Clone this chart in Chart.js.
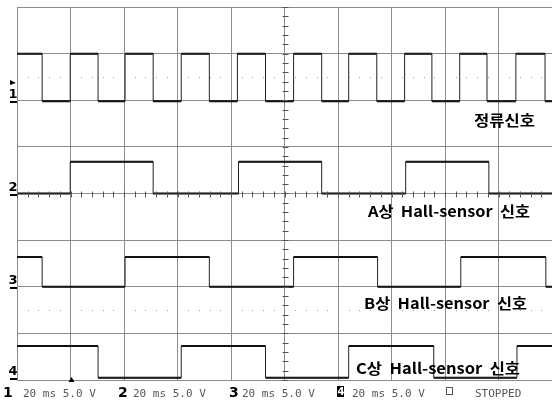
<!DOCTYPE html>
<html>
<head>
<meta charset="utf-8">
<script src="https://cdn.jsdelivr.net/npm/chart.js@4"></script>
<style>
    html, body { margin: 0; padding: 0; background: #fff; }
    #wrap { width: 552px; height: 401px; }
</style>
</head>
<body>
<div id="wrap"><canvas id="scope"></canvas></div>
<script>
// Horizontal: 10 div x 20 ms, vertical: 8 div (values in divisions)
const timeMax = 200;
const timeStep = 20;
const divMax = 8;

// Edge times (ms), level flips at each edge
const ch1Edges = [9.4, 19.9, 30.3, 40.4, 50.9, 61.4, 71.9, 82.4, 92.9, 103.4, 113.9, 124.0, 134.5, 144.9, 155.1, 165.5, 175.7, 186.5, 197.4];
const ch2Edges = [19.9, 50.9, 82.8, 113.9, 145.3, 176.4];
const ch3Edges = [9.4, 40.4, 71.9, 103.4, 134.8, 165.9, 197.7];
const ch4Edges = [30.3, 61.4, 92.9, 124.0, 155.8, 186.9];

const startHigh = [true, false, true, true];
const highLevels = [7.0, 4.68, 2.64, 0.73];
const lowLevels = [5.98, 4.0, 2.0, 0.05];

const signalLabels = ['정류신호', 'A상  Hall-sensor  신호', 'B상  Hall-sensor  신호', 'C상  Hall-sensor  신호'];
const channelNames = ['1', '2', '3', '4'];
const statusText = '20 ms 5.0 V';

function buildSteps(edges, high, hi, lo) {
    const pts = [{ x: 0, y: high ? hi : lo }];
    edges.forEach(t => {
        high = !high;
        pts.push({ x: t, y: high ? hi : lo });
    });
    pts.push({ x: timeMax, y: high ? hi : lo });
    return pts;
}

// flat parts only, separated by gaps, drawn heavier like the scope trace
function buildFlats(pts) {
    const out = [];
    for (let i = 0; i < pts.length - 1; i++) {
        out.push({ x: pts[i].x, y: pts[i].y });
        out.push({ x: pts[i + 1].x, y: pts[i].y });
        out.push({ x: pts[i + 1].x, y: null });
    }
    return out;
}

const allEdges = [ch1Edges, ch2Edges, ch3Edges, ch4Edges];
const datasets = [];
allEdges.forEach((edges, i) => {
    const pts = buildSteps(edges, startHigh[i], highLevels[i], lowLevels[i]);
    datasets.push({
        label: signalLabels[i],
        data: pts,
        borderColor: '#222',
        borderWidth: 1,
        pointRadius: 0,
        stepped: true,
        fill: false
    });
    datasets.push({
        label: signalLabels[i] + ' flat',
        data: buildFlats(pts),
        borderColor: '#000',
        borderWidth: 2,
        pointRadius: 0,
        spanGaps: false,
        fill: false
    });
});

const gridColor = '#8c8c8c';

// Scope overlay: crosshair ticks, dotted lines, channel markers, texts
const scopeOverlay = {
    id: 'scopeOverlay',
    afterDatasetsDraw(chart) {
        const ctx = chart.ctx;
        const xs = chart.scales.x;
        const ys = chart.scales.y;
        const cx = Math.round(xs.getPixelForValue(timeMax / 2)) + 0.5;
        const cy = Math.round(ys.getPixelForValue(divMax / 2)) + 0.5;
        ctx.save();

        // minor ticks on centre axes
        ctx.strokeStyle = '#555';
        ctx.lineWidth = 1;
        ctx.beginPath();
        for (let t = 0; t <= timeMax; t += timeStep / 5) {
            const px = Math.round(xs.getPixelForValue(t)) + 0.5;
            ctx.moveTo(px, cy - 3);
            ctx.lineTo(px, cy + 3);
        }
        for (let v = 0; v <= divMax + 0.01; v += 0.2) {
            const py = Math.round(ys.getPixelForValue(v)) + 0.5;
            ctx.moveTo(cx - 3, py);
            ctx.lineTo(cx + 3, py);
        }
        ctx.stroke();

        // dotted half-division lines
        ctx.fillStyle = '#999';
        [6.5, 1.5].forEach(v => {
            const py = Math.round(ys.getPixelForValue(v));
            for (let t = 0; t <= timeMax; t += timeStep / 5) {
                if (t % timeStep === 0) continue;
                const px = Math.round(xs.getPixelForValue(t));
                ctx.fillRect(px, py, 1, 1);
            }
        });

        // channel markers at the left
        ctx.fillStyle = '#000';
        ctx.font = 'bold 13px "DejaVu Sans"';
        ctx.textAlign = 'center';
        ctx.textBaseline = 'alphabetic';
        channelNames.forEach((name, i) => {
            const py = ys.getPixelForValue(lowLevels[i]);
            ctx.fillText(name, 13, py - 3);
            ctx.fillRect(10, Math.round(py), 7, 2);
        });
        // ch1 level arrow
        ctx.beginPath();
        ctx.moveTo(10, 80);
        ctx.lineTo(16, 83);
        ctx.lineTo(10, 85);
        ctx.closePath();
        ctx.fill();

        // trigger marker at bottom
        const tx = Math.round(xs.getPixelForValue(timeStep)) + 0.5;
        ctx.beginPath();
        ctx.moveTo(tx, 377);
        ctx.lineTo(tx - 3, 382);
        ctx.lineTo(tx + 3, 382);
        ctx.closePath();
        ctx.fill();

        // signal names, stretched to the width they take on the scope
        ctx.font = 'bold 15px "Noto Sans CJK KR"';
        ctx.textAlign = 'left';
        ctx.textBaseline = 'middle';
        const labelPos = [[474, 120, 61], [368, 211, 162], [364, 303, 163], [356, 368, 164]];
        signalLabels.forEach((txt, i) => {
            const w = ctx.measureText(txt).width;
            ctx.save();
            ctx.translate(labelPos[i][0], labelPos[i][1]);
            ctx.scale(labelPos[i][2] / w, 1);
            ctx.fillText(txt, 0, 0);
            ctx.restore();
        });

        // status bar
        ctx.textBaseline = 'alphabetic';
        const numX = [3, 118, 229];
        const txtX = [23, 133, 242, 352];
        channelNames.forEach((name, i) => {
            if (i < 3) {
                ctx.fillStyle = '#000';
                ctx.font = 'bold 14px "DejaVu Sans"';
                ctx.fillText(name, numX[i], 397);
            } else {
                ctx.fillStyle = '#000';
                ctx.fillRect(337, 386, 7, 11);
                ctx.fillStyle = '#fff';
                ctx.font = 'bold 10px "DejaVu Sans"';
                ctx.fillText(name, 337.5, 395);
            }
            ctx.fillStyle = '#555';
            ctx.font = '11px "DejaVu Sans Mono"';
            ctx.fillText(statusText, txtX[i], 397);
        });
        ctx.strokeStyle = '#555';
        ctx.strokeRect(446.5, 387.5, 6, 7);
        ctx.fillText('STOPPED', 475, 397);

        ctx.restore();
    }
};

new Chart(document.getElementById('scope'), {
    type: 'line',
    data: { datasets: datasets },
    options: {
        responsive: true,
        maintainAspectRatio: false,
        animation: false,
        events: [],
        layout: { padding: { left: 17, top: 7, right: 0, bottom: 21 } },
        plugins: {
            legend: { display: false },
            tooltip: { enabled: false }
        },
        scales: {
            x: {
                type: 'linear',
                min: 0,
                max: timeMax,
                ticks: { display: false, stepSize: timeStep },
                grid: { color: gridColor, lineWidth: 1, drawTicks: false },
                border: { display: true, color: gridColor }
            },
            y: {
                min: 0,
                max: divMax,
                ticks: { display: false, stepSize: 1 },
                grid: { color: gridColor, lineWidth: 1, drawTicks: false },
                border: { display: true, color: gridColor }
            }
        }
    },
    plugins: [scopeOverlay]
});
</script>
</body>
</html>
